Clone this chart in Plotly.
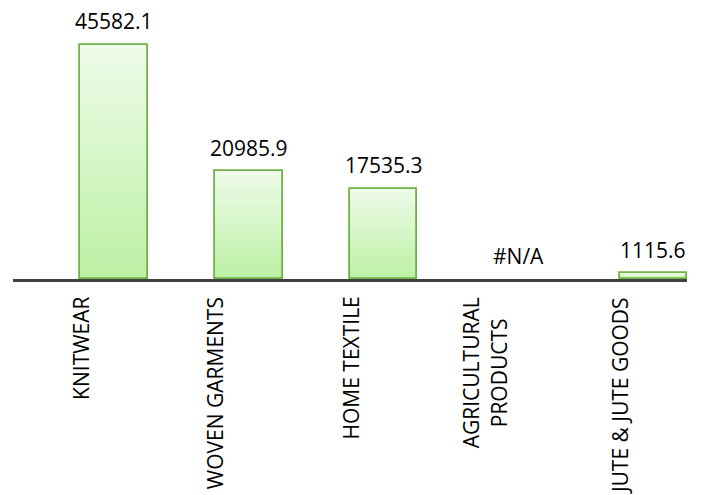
import plotly.graph_objects as go

categories = ["KNITWEAR", "WOVEN GARMENTS", "HOME TEXTILE", "AGRICULTURAL<br>PRODUCTS", "JUTE & JUTE GOODS"]
values = [45582.1, 20985.9, 17535.3, None, 1115.6]
value_labels = ["45582.1", "20985.9", "17535.3", "#N/A", "1115.6"]

TOP = (238, 251, 233)
BOTTOM = (188, 240, 164)
OUTLINE = "#70b247"
N_LAYERS = 60

plot_vals = [v if v is not None else 0 for v in values]

fig = go.Figure()

# gradient fill: overlaid layers, each shorter and darker
for k in range(N_LAYERS):
    frac = (N_LAYERS - k) / N_LAYERS
    t = (N_LAYERS - k - 0.5) / N_LAYERS
    col = tuple(round(BOTTOM[j] + (TOP[j] - BOTTOM[j]) * t) for j in range(3))
    fig.add_trace(go.Bar(
        x=categories, y=[v * frac for v in plot_vals],
        offset=0, width=0.5,
        marker=dict(color="rgb(%d,%d,%d)" % col, line=dict(width=0)),
        hoverinfo="skip", showlegend=False,
    ))

# outline
fig.add_trace(go.Bar(
    x=categories, y=values,
    offset=0, width=0.5,
    marker=dict(color="rgba(0,0,0,0)", line=dict(color=OUTLINE, width=1.8)),
    showlegend=False,
))

# value labels
for i, (v, lab) in enumerate(zip(plot_vals, value_labels)):
    fig.add_annotation(
        x=i + 0.25, y=v, xref="x", yref="y",
        text=lab, showarrow=False,
        yanchor="bottom", yshift=7.5,
        font=dict(family="Open Sans", size=21, color="#000000"),
    )

# category labels (rotated, centred lines)
for i, cat in enumerate(categories):
    fig.add_annotation(
        x=i, y=0, xref="x", yref="y",
        text=cat, showarrow=False, textangle=-90, align="center",
        xanchor="center", yanchor="top", yshift=-16,
        font=dict(family="Open Sans", size=21, color="#000000"),
    )

fig.update_layout(
    width=707, height=495,
    margin=dict(l=5, r=28, t=0, b=224),
    barmode="overlay",
    bargap=0,
    plot_bgcolor="white", paper_bgcolor="white",
    xaxis=dict(
        type="category", range=[-0.5, 4.5],
        showline=True, linecolor="#404040", linewidth=3,
        showgrid=False, ticks="", showticklabels=False,
    ),
    yaxis=dict(
        range=[0, 52789], visible=False, showgrid=False, zeroline=False,
    ),
)

fig.write_html("out.html")
